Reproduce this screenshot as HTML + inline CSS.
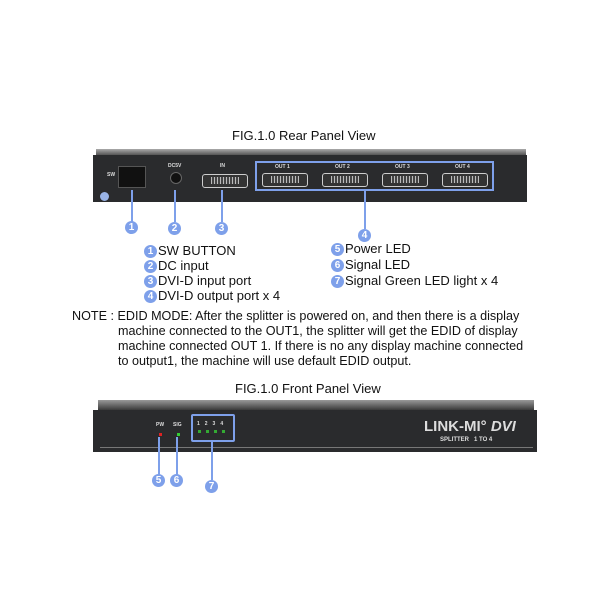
<!DOCTYPE html><html><head><style>
body{margin:0;width:600px;height:600px;background:#fff;position:relative;font-family:"Liberation Sans",sans-serif;overflow:hidden}
.a{position:absolute;white-space:nowrap}
.c{position:absolute;width:13px;height:13px;border-radius:50%;background:#7ea0ea;color:#fff;font:bold 10px "Liberation Sans",sans-serif;text-align:center;line-height:13px}
.t{position:absolute;font-size:13px;color:#111;white-space:nowrap}
.l{position:absolute;background:#7ea0ea;width:2px}
.w{color:#ddd;font-size:5px;font-weight:bold}
.dvi{position:absolute;width:44px;height:12px;border:1px solid #ccc;border-radius:3px;background:#333}
.dvi:before{content:"";position:absolute;left:8px;top:2px;width:28px;height:7px;background:repeating-linear-gradient(90deg,#bbb 0 1px,#444 1px 3px)}
</style></head><body>
<div class="a" style="left:232px;top:128px;font-size:13px;color:#111">FIG.1.0 Rear Panel View</div>
<div class="a" style="left:96px;top:149px;width:430px;height:6px;background:linear-gradient(#aaa,#555)"></div>
<div class="a" style="left:93px;top:155px;width:434px;height:47px;background:#2a2b2d"></div>
<div class="a" style="left:100px;top:192px;width:9px;height:9px;border-radius:50%;background:#9ab4e6"></div>
<div class="a w" style="left:107px;top:172px">SW</div>
<div class="a" style="left:118px;top:166px;width:26px;height:20px;background:#111;border:1px solid #555"></div>
<div class="a w" style="left:168px;top:163px">DC5V</div>
<div class="a" style="left:170px;top:172px;width:10px;height:10px;border-radius:50%;background:#111;border:1px solid #666"></div>
<div class="a w" style="left:220px;top:163px">IN</div>
<div class="dvi" style="left:202px;top:174px"></div>
<div class="a" style="left:255px;top:161px;width:235px;height:26px;border:2px solid #7ea0ea"></div>
<div class="a w" style="left:275px;top:164px">OUT 1</div><div class="dvi" style="left:262px;top:173px"></div>
<div class="a w" style="left:335px;top:164px">OUT 2</div><div class="dvi" style="left:322px;top:173px"></div>
<div class="a w" style="left:395px;top:164px">OUT 3</div><div class="dvi" style="left:382px;top:173px"></div>
<div class="a w" style="left:455px;top:164px">OUT 4</div><div class="dvi" style="left:442px;top:173px"></div>
<div class="l" style="left:131px;top:190px;height:32px"></div>
<div class="l" style="left:174px;top:190px;height:32px"></div>
<div class="l" style="left:221px;top:190px;height:32px"></div>
<div class="l" style="left:364px;top:189px;height:40px"></div>
<div class="c" style="left:125px;top:221px">1</div>
<div class="c" style="left:168px;top:222px">2</div>
<div class="c" style="left:215px;top:222px">3</div>
<div class="c" style="left:358px;top:229px">4</div>
<div class="c" style="left:144px;top:245px">1</div><div class="t" style="left:158px;top:243px">SW BUTTON</div>
<div class="c" style="left:144px;top:260px">2</div><div class="t" style="left:158px;top:258px">DC input</div>
<div class="c" style="left:144px;top:275px">3</div><div class="t" style="left:158px;top:273px">DVI-D input port</div>
<div class="c" style="left:144px;top:290px">4</div><div class="t" style="left:158px;top:288px">DVI-D output port x 4</div>
<div class="c" style="left:331px;top:243px">5</div><div class="t" style="left:345px;top:241px">Power LED</div>
<div class="c" style="left:331px;top:259px">6</div><div class="t" style="left:345px;top:257px">Signal LED</div>
<div class="c" style="left:331px;top:275px">7</div><div class="t" style="left:345px;top:273px">Signal Green LED light x 4</div>
<div class="t" style="left:72px;top:309px;line-height:15px;font-size:12.6px">NOTE : EDID MODE: After the splitter is powered on, and then there is a display<br><span style="padding-left:46px">machine connected to the OUT1, the splitter will get the EDID of display</span><br><span style="padding-left:46px">machine connected OUT 1. If there is no any display machine connected</span><br><span style="padding-left:46px">to output1, the machine will use default EDID output.</span></div>
<div class="a" style="left:235px;top:381px;font-size:13px;color:#111">FIG.1.0 Front Panel View</div>
<div class="a" style="left:98px;top:400px;width:436px;height:10px;background:linear-gradient(#999,#3a3a3a)"></div>
<div class="a" style="left:93px;top:410px;width:444px;height:42px;background:#2a2b2d"></div>
<div class="a" style="left:100px;top:447px;width:433px;height:1px;background:#777"></div>
<div class="a w" style="left:156px;top:422px">PW</div>
<div class="a" style="left:159px;top:433px;width:3px;height:3px;background:#d22"></div>
<div class="a w" style="left:173px;top:422px">SIG</div>
<div class="a" style="left:177px;top:433px;width:3px;height:3px;background:#3c3"></div>
<div class="a" style="left:191px;top:414px;width:40px;height:24px;border:2px solid #7ea0ea;border-radius:2px"></div>
<div class="a w" style="left:197px;top:421px;letter-spacing:5px">1234</div>
<div class="a" style="left:198px;top:430px;width:28px;height:3px;background:repeating-linear-gradient(90deg,#3a3 0 3px,transparent 3px 8px)"></div>
<div class="a" style="left:424px;top:418px;color:#ddd;font:bold 15px 'Liberation Sans',sans-serif">LINK-MI° <i>DVI</i></div>
<div class="a" style="left:440px;top:437px;color:#ddd;font:bold 6px 'Liberation Sans',sans-serif">SPLITTER &nbsp; 1 TO 4</div>
<div class="l" style="left:158px;top:437px;height:38px"></div>
<div class="l" style="left:176px;top:437px;height:38px"></div>
<div class="l" style="left:211px;top:440px;height:40px"></div>
<div class="c" style="left:152px;top:474px">5</div>
<div class="c" style="left:170px;top:474px">6</div>
<div class="c" style="left:205px;top:480px">7</div>
</body></html>
